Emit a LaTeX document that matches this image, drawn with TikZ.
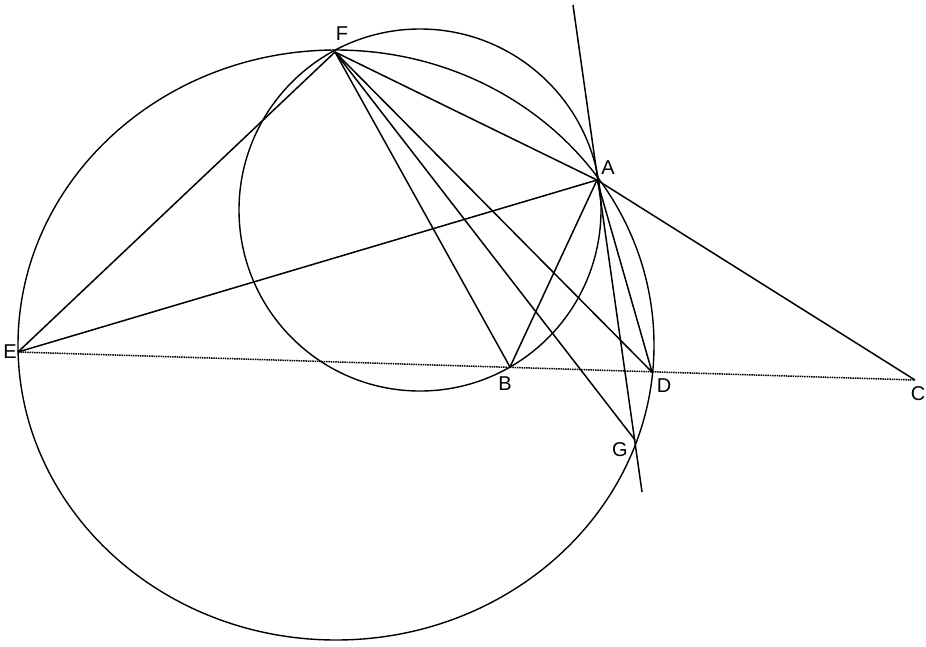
\documentclass[tikz,border=0pt]{standalone}
\usepackage{fontspec}
\setmainfont{Liberation Sans}
\begin{document}
\begin{tikzpicture}[x=1pt,y=-1pt,
  seg/.style={line width=1.5pt,black},
  curve/.style={line width=1.4pt,black},
  base/.style={line width=1.5pt,black,dash pattern=on 1.5pt off 0.8pt},
  lab/.style={inner sep=0pt,font=\fontsize{20}{24}\selectfont}]
\useasboundingbox (0,0) rectangle (926,646);
\fill[white] (0,0) rectangle (926,646);
% points
\coordinate (F) at (335,52);
\coordinate (A) at (597,180);
\coordinate (E) at (18,352);
\coordinate (B) at (510,367);
\coordinate (D) at (652,372);
\coordinate (C) at (915,380);
\coordinate (G) at (635,440);
\coordinate (T) at (573,5);
\coordinate (U) at (642,492);
\coordinate (O1) at (336,345);
\coordinate (O2) at (420,210);
% circles
\draw[curve] (O1) ellipse [x radius=318pt, y radius=295pt];
\draw[curve] (O2) circle [radius=181pt];
% segments
\draw[base] (E) -- (C);
\draw[seg] (E) -- (F);
\draw[seg] (E) -- (A);
\draw[seg] (F) -- (A);
\draw[seg] (F) -- (B);
\draw[seg] (F) -- (G);
\draw[seg] (F) -- (D);
\draw[seg] (A) -- (C);
\draw[seg] (A) -- (B);
\draw[seg] (A) -- (D);
\draw[seg] (T) -- (U);
% labels
\node[lab] (lF) at (342,34) {F};
\node[lab] (lA) at (608,168) {A};
\node[lab] (lE) at (10,352) {E};
\node[lab] (lB) at (505,384) {B};
\node[lab] (lD) at (664,386) {D};
\node[lab] (lC) at (918,394) {C};
\node[lab] (lG) at (620,450) {G};
\end{tikzpicture}
\end{document}
